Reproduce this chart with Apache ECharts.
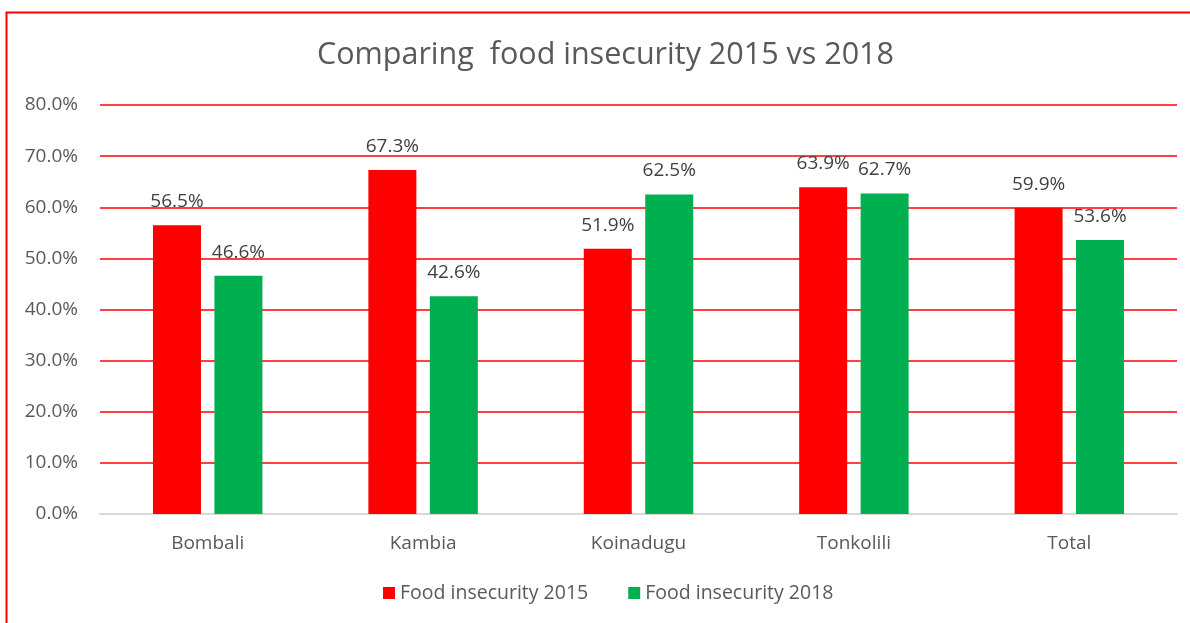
<!DOCTYPE html>
<html>
<head>
<meta charset="utf-8">
<script src="https://cdn.jsdelivr.net/npm/echarts@6/dist/echarts.min.js"></script>
<style>
  html, body { margin: 0; padding: 0; background: #fff; }
  #chart { width: 1190px; height: 623px; }
</style>
</head>
<body>
<div id="chart"></div>
<script>
const districts = ['Bombali', 'Kambia', 'Koinadugu', 'Tonkolili', 'Total'];
const insecurity2015 = [56.5, 67.3, 51.9, 63.9, 59.9];
const insecurity2018 = [46.6, 42.6, 62.5, 62.7, 53.6];
const seriesNames = ['Food insecurity 2015', 'Food insecurity 2018'];

const FONT = '"Open Sans", Lato, sans-serif';
const TEXT = '#595959';

const chart = echarts.init(document.getElementById('chart'));

const labelStyle = {
  show: true,
  position: 'top',
  distance: 14,
  color: '#404040',
  fontSize: 19,
  fontFamily: FONT,
  formatter: p => p.value.toFixed(1) + '%'
};

chart.setOption({
  animation: false,
  backgroundColor: '#ffffff',
  title: {
    text: 'Comparing  food insecurity 2015 vs 2018',
    left: 312,
    top: 35,
    textStyle: { color: TEXT, fontSize: 30.5, fontWeight: 'normal', fontFamily: FONT }
  },
  graphic: [{
    type: 'rect',
    shape: { x: 6.5, y: 12.5, width: 1200, height: 700 },
    style: { fill: 'none', stroke: '#ff0000', lineWidth: 2 },
    silent: true
  }],
  legend: {
    data: seriesNames,
    bottom: 15,
    left: 378,
    itemWidth: 12,
    itemHeight: 12,
    itemGap: 40,
    icon: 'rect',
    textStyle: { color: TEXT, fontSize: 19.5, fontFamily: FONT }
  },
  grid: { left: 100, right: 13, top: 105, bottom: 109, containLabel: false },
  xAxis: {
    type: 'category',
    data: districts,
    axisLine: { lineStyle: { color: '#d9d9d9', width: 2 } },
    axisTick: { show: false },
    axisLabel: { color: TEXT, fontSize: 19, fontFamily: FONT, margin: 20 }
  },
  yAxis: {
    type: 'value',
    min: 0,
    max: 80,
    interval: 10,
    axisLine: { show: false },
    axisTick: { show: false },
    splitLine: { lineStyle: { color: '#ff0000', width: 1.5 } },
    axisLabel: {
      color: TEXT, fontSize: 19, fontFamily: FONT, margin: 22,
      formatter: v => v.toFixed(1) + '%'
    }
  },
  series: [
    {
      name: seriesNames[0],
      type: 'bar',
      data: insecurity2015,
      barWidth: 48,
      barGap: '28%',
      itemStyle: { color: '#ff0000' },
      label: labelStyle
    },
    {
      name: seriesNames[1],
      type: 'bar',
      data: insecurity2018,
      barWidth: 48,
      itemStyle: { color: '#00b050' },
      label: labelStyle
    }
  ]
});
</script>
</body>
</html>
